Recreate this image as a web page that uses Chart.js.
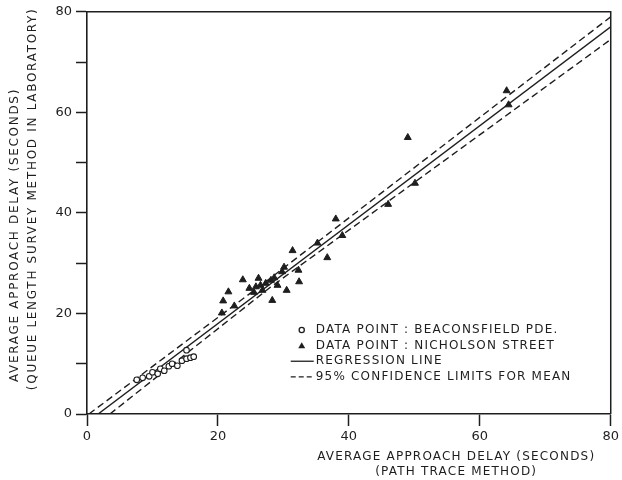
<!DOCTYPE html>
<html>
<head>
<meta charset="utf-8">
<script src="https://cdn.jsdelivr.net/npm/chart.js@4/dist/chart.umd.min.js"></script>
<style>
  html, body { margin: 0; padding: 0; background: #fff; }
  #wrap { width: 622px; height: 480px; }
</style>
</head>
<body>
<div id="wrap"><canvas id="delayChart" width="622" height="480"></canvas></div>
<script>
// data
const beaconsfieldX = [7.6, 8.5, 9.5, 10.0, 10.8, 11.2, 11.8, 12.5, 13.0, 13.8, 14.5, 15.2, 15.2, 15.8, 16.3];
const beaconsfieldY = [6.8, 7.2, 7.5, 8.3, 8.0, 9.0, 8.6, 9.5, 10.0, 9.6, 10.6, 11.0, 12.7, 11.2, 11.4];

const nicholsonX = [20.6, 20.8, 21.6, 22.5, 23.8, 24.8, 25.5, 25.8, 26.2, 26.5, 26.8, 27.3, 28.1, 28.3, 28.6, 29.1, 29.8, 30.1, 30.5, 31.4, 32.3, 32.4, 35.2, 36.7, 38.0, 39.0, 46.0, 49.0, 50.1, 64.1, 64.4];
const nicholsonY = [20.1, 22.5, 24.3, 21.5, 26.7, 25.0, 24.2, 25.3, 27.0, 25.6, 24.6, 26.0, 26.6, 22.6, 27.1, 25.6, 28.3, 29.2, 24.6, 32.5, 28.6, 26.3, 34.0, 31.1, 38.8, 35.5, 41.7, 55.0, 45.9, 64.3, 61.5];

const regressionX = [1.7, 80];
const regressionY = [0, 77];
const upperX = [0.3, 28, 80];
const upperY = [0, 27.0, 79];
const lowerX = [3.5, 28, 80];
const lowerY = [0, 25.2, 74.5];

const xTitle = ['AVERAGE APPROACH DELAY (SECONDS)', '(PATH TRACE METHOD)'];
const yTitle = ['AVERAGE APPROACH DELAY (SECONDS)', '(QUEUE LENGTH SURVEY METHOD IN LABORATORY)'];
const legendLabels = ['DATA POINT : BEACONSFIELD PDE.', 'DATA POINT : NICHOLSON STREET', 'REGRESSION LINE', '95% CONFIDENCE LIMITS FOR MEAN'];

const ink = '#1e1e1e';
const FONT = '"DejaVu Sans", sans-serif';

const toPoints = (xs, ys) => xs.map((x, i) => ({ x: x, y: ys[i] }));

const lineSet = (xs, ys, dash) => ({
    data: toPoints(xs, ys),
    showLine: true,
    borderColor: ink,
    borderWidth: 1.4,
    borderDash: dash,
    pointRadius: 0,
    fill: false
});

// frame, axis titles and the legend box inside the plot
const extras = {
    id: 'extras',
    afterDraw(chart) {
        const { ctx, chartArea: a, scales: { x, y } } = chart;
        ctx.save();
        ctx.strokeStyle = ink;
        ctx.lineWidth = 1.5;
        ctx.beginPath();
        ctx.moveTo(a.left, a.top);
        ctx.lineTo(a.right, a.top);
        ctx.lineTo(a.right, a.bottom);
        ctx.stroke();

        ctx.fillStyle = ink;
        ctx.textBaseline = 'middle';
        ctx.font = '12px ' + FONT;
        ctx.letterSpacing = '1.2px';
        ctx.textAlign = 'center';
        const cx = x.getPixelForValue(56.4);
        ctx.fillText(xTitle[0], cx, a.bottom + 43);
        ctx.fillText(xTitle[1], cx, a.bottom + 58);

        ctx.letterSpacing = '1.7px';
        ctx.save();
        ctx.translate(15, y.getPixelForValue(35.6));
        ctx.rotate(-Math.PI / 2);
        ctx.fillText(yTitle[0], 0, 0);
        ctx.restore();
        ctx.save();
        ctx.translate(33, y.getPixelForValue(42.8));
        ctx.rotate(-Math.PI / 2);
        ctx.fillText(yTitle[1], 0, 0);
        ctx.restore();

        // legend
        const mx = x.getPixelForValue(32.8);
        const tx = mx + 14;
        const top = y.getPixelForValue(16.7);
        const step = 15.6;
        ctx.font = '12px ' + FONT;
        ctx.letterSpacing = '1.2px';
        ctx.textAlign = 'left';
        legendLabels.forEach((label, i) => {
            const ly = top + i * step;
            ctx.fillText(label, tx, ly);
            ctx.lineWidth = 1.3;
            ctx.setLineDash([]);
            if (i === 0) {
                ctx.beginPath();
                ctx.arc(mx, ly, 2.6, 0, Math.PI * 2);
                ctx.stroke();
            } else if (i === 1) {
                ctx.beginPath();
                ctx.moveTo(mx, ly - 3.5);
                ctx.lineTo(mx + 3.5, ly + 2.5);
                ctx.lineTo(mx - 3.5, ly + 2.5);
                ctx.closePath();
                ctx.fill();
            } else {
                if (i === 3) ctx.setLineDash([5, 3]);
                ctx.beginPath();
                ctx.moveTo(mx - 11, ly);
                ctx.lineTo(tx - 2, ly);
                ctx.stroke();
            }
        });
        ctx.restore();
    }
};

const config = {
    type: 'scatter',
    data: {
        datasets: [
            {
                data: toPoints(beaconsfieldX, beaconsfieldY),
                pointStyle: 'circle',
                pointRadius: 2.8,
                backgroundColor: '#fff',
                borderColor: ink,
                borderWidth: 1.1
            },
            {
                data: toPoints(nicholsonX, nicholsonY),
                pointStyle: 'triangle',
                pointRadius: 4,
                backgroundColor: ink,
                borderColor: ink,
                borderWidth: 1
            },
            lineSet(regressionX, regressionY, []),
            lineSet(upperX, upperY, [7, 4]),
            lineSet(lowerX, lowerY, [7, 4])
        ]
    },
    options: {
        responsive: false,
        animation: false,
        layout: { padding: { top: 11, right: 9, left: 0, bottom: 0 } },
        plugins: {
            legend: { display: false },
            tooltip: { enabled: false }
        },
        scales: {
            x: {
                type: 'linear',
                min: 0,
                max: 80,
                afterFit: s => { s.height = 66; },
                border: { color: ink, width: 1.6 },
                grid: {
                    drawOnChartArea: false,
                    tickLength: 12,
                    tickWidth: 1.5,
                    tickColor: c => (c.tick && c.tick.value % 20 === 0) ? ink : 'rgba(0,0,0,0)'
                },
                ticks: {
                    stepSize: 10,
                    padding: 3,
                    color: ink,
                    font: { family: FONT, size: 13 },
                    maxRotation: 0,
                    autoSkip: false,
                    callback: v => v % 20 === 0 ? v : ''
                }
            },
            y: {
                type: 'linear',
                min: 0,
                max: 80,
                afterFit: s => { s.width = 87; },
                border: { color: ink, width: 1.6 },
                grid: {
                    drawOnChartArea: false,
                    tickLength: 11,
                    tickWidth: 1.5,
                    tickColor: ink
                },
                ticks: {
                    stepSize: 10,
                    padding: 4,
                    color: ink,
                    font: { family: FONT, size: 13 },
                    autoSkip: false,
                    callback: v => v % 20 === 0 ? v : ''
                }
            }
        }
    },
    plugins: [extras]
};

const chart = new Chart(document.getElementById('delayChart'), config);
</script>
</body>
</html>
